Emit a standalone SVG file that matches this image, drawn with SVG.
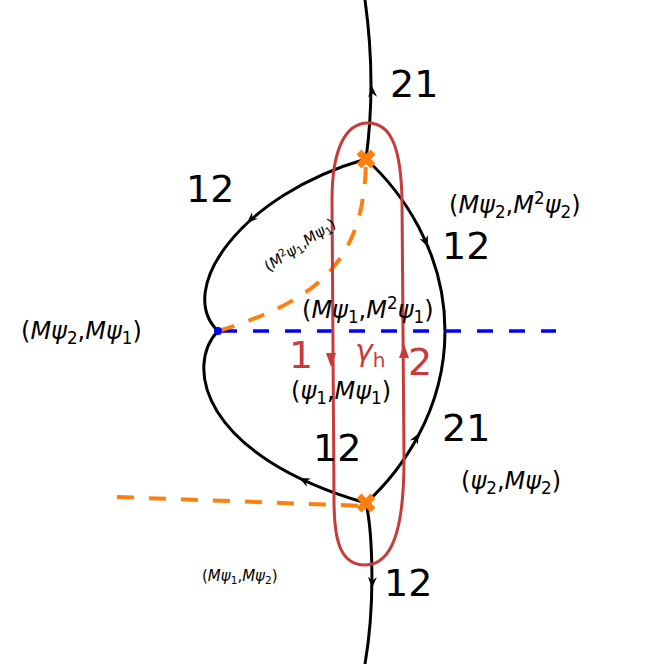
<svg xmlns="http://www.w3.org/2000/svg" xmlns:xlink="http://www.w3.org/1999/xlink" width="664" height="664" viewBox="0 0 664 664">
<style>
.wall{fill:none;stroke:#000;stroke-width:3}
.or{fill:none;stroke:#ff7f0e;stroke-width:4;stroke-dasharray:17 15}
.bl{fill:none;stroke:#0000ff;stroke-width:3.5;stroke-dasharray:16 16}
.loop{fill:none;stroke:#c93a3a;stroke-width:3}
.num{font-family:"DejaVu Sans",sans-serif;font-size:38px;fill:#000}
.rnum{font-family:"DejaVu Sans",sans-serif;font-size:38px;fill:#c93a3a}
.lbl{font-family:"DejaVu Sans",sans-serif;font-size:24px;fill:#000}
.i{font-style:italic}
.sub{font-size:70%}
</style>
<defs>
<path id="ah" d="M0,0 L-11,-4.5 L-7.5,0 L-11,4.5 Z" fill="#000"/>
<path id="rah" d="M0,0 L-14,-5 L-14,5 Z" fill="#c93a3a"/>
<g id="xm"><path d="M-7,-7 L7,7 M-7,7 L7,-7" stroke="#ff7f0e" stroke-width="7" fill="none"/></g>
</defs>
<g id="connectors">
<path class="wall" d="M365,0 C372,50 374,100 366,159"/>
<path class="wall" d="M366,503 C372,530 376,600 365,664"/>
<path class="wall" d="M366,159 C240,195 175,290 218,331"/>
<path class="wall" d="M218,331 C185,365 200,455 366,503"/>
<path class="wall" d="M366,159 C400,190 445,250 445,331"/>
<path class="wall" d="M366,503 C400,472 445,412 445,331"/>
<use xlink:href="#ah" transform="translate(372,86) rotate(-93)"/>
<use xlink:href="#ah" transform="translate(372,588) rotate(92)"/>
<use xlink:href="#ah" transform="translate(247,223) rotate(137)"/>
<use xlink:href="#ah" transform="translate(299,478) rotate(205)"/>
<use xlink:href="#ah" transform="translate(428,247) rotate(67)"/>
<use xlink:href="#ah" transform="translate(419,433) rotate(-62)"/>
<path class="bl" d="M221,331 L556,331"/>
<path class="or" d="M218,331 C320,300 365,260 366,159"/>
<path class="or" d="M117,497 L366,506"/>
</g>
<g id="loop">
<path class="loop" d="M368,123 C392,123 401,150 402,200 L404,460 C404,530 392,565 365,565 C340,565 334,540 334,500 L332,200 C332,150 345,123 368,123 Z"/>
<use xlink:href="#rah" transform="translate(331,367) rotate(90)"/>
<use xlink:href="#rah" transform="translate(404,344) rotate(-90)"/>
</g>
<g id="bp-top"><use xlink:href="#xm" transform="translate(366,159)"/></g>
<g id="bp-bottom"><use xlink:href="#xm" transform="translate(366,503)"/></g>
<g id="dot"><circle cx="218" cy="331" r="4" fill="#0000ff"/></g>
<g id="labels">
<text class="num" x="390" y="97">21</text>
<text class="num" x="186" y="202">12</text>
<text class="num" x="442" y="259">12</text>
<text class="num" x="442" y="441">21</text>
<text class="num" x="313" y="461">12</text>
<text class="num" x="384" y="596">12</text>
<text class="rnum" x="289" y="368">1</text>
<text class="rnum" x="408" y="375">2</text>
<text class="rnum" x="355" y="361" style="font-size:30px"><tspan class="i">γ</tspan><tspan dy="6" style="font-size:20px">h</tspan></text>
<text class="lbl" x="21" y="339">(<tspan class="i">Mψ</tspan><tspan class="sub" dy="5">2</tspan><tspan dy="-5">,</tspan><tspan class="i">Mψ</tspan><tspan class="sub" dy="5">1</tspan><tspan dy="-5">)</tspan></text>
<text class="lbl" x="302" y="318">(<tspan class="i">Mψ</tspan><tspan class="sub" dy="5">1</tspan><tspan dy="-5">,</tspan><tspan class="i">M</tspan><tspan class="sub" dy="-9">2</tspan><tspan class="i" dy="9">ψ</tspan><tspan class="sub" dy="5">1</tspan><tspan dy="-5">)</tspan></text>
<text class="lbl" x="291" y="399">(<tspan class="i">ψ</tspan><tspan class="sub" dy="5">1</tspan><tspan dy="-5">,</tspan><tspan class="i">Mψ</tspan><tspan class="sub" dy="5">1</tspan><tspan dy="-5">)</tspan></text>
<text class="lbl" x="449" y="213">(<tspan class="i">Mψ</tspan><tspan class="sub" dy="5">2</tspan><tspan dy="-5">,</tspan><tspan class="i">M</tspan><tspan class="sub" dy="-9">2</tspan><tspan class="i" dy="9">ψ</tspan><tspan class="sub" dy="5">2</tspan><tspan dy="-5">)</tspan></text>
<text class="lbl" x="461" y="489">(<tspan class="i">ψ</tspan><tspan class="sub" dy="5">2</tspan><tspan dy="-5">,</tspan><tspan class="i">Mψ</tspan><tspan class="sub" dy="5">2</tspan><tspan dy="-5">)</tspan></text>
<text class="lbl" x="202" y="581" style="font-size:15px">(<tspan class="i">Mψ</tspan><tspan class="sub" dy="3">1</tspan><tspan dy="-3">,</tspan><tspan class="i">Mψ</tspan><tspan class="sub" dy="3">2</tspan><tspan dy="-3">)</tspan></text>
<text class="lbl" x="300" y="250" text-anchor="middle" transform="rotate(-34 300 245)" style="font-size:15px">(<tspan class="i">M</tspan><tspan class="sub" dy="-5">2</tspan><tspan class="i" dy="5">ψ</tspan><tspan class="sub" dy="3">1</tspan><tspan dy="-3">,</tspan><tspan class="i">Mψ</tspan><tspan class="sub" dy="3">1</tspan><tspan dy="-3">)</tspan></text>
</g>
</svg>
